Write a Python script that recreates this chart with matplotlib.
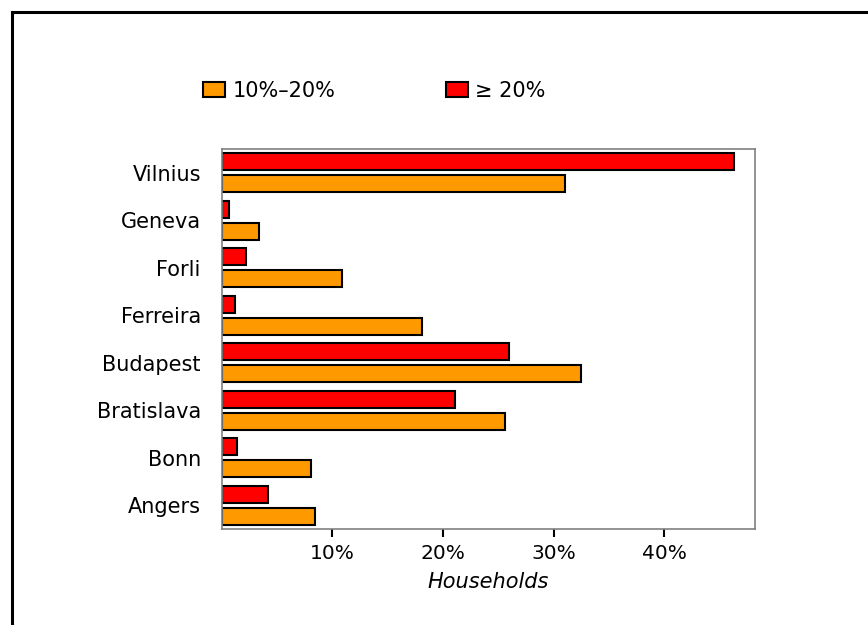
import numpy as np
import matplotlib.pyplot as plt
from matplotlib.lines import Line2D
from matplotlib.patches import Patch

# data (percent of households)
cities = ["Angers", "Bonn", "Bratislava", "Budapest", "Ferreira", "Forli", "Geneva", "Vilnius"]
share_10_20 = [8.4, 8.1, 25.6, 32.5, 18.1, 10.9, 3.4, 31.0]
share_20_plus = [4.2, 1.4, 21.1, 26.0, 1.2, 2.2, 0.7, 46.3]
xticks = [10, 20, 30, 40]
xtick_labels = ["10%", "20%", "30%", "40%"]

orange = "#FF9900"
red = "#FF0000"

plt.rcParams['font.family'] = 'DejaVu Sans'

fig = plt.figure(figsize=(8.68, 6.25), dpi=100)
ax = fig.add_axes([0.2554, 0.1536, 0.6144, 0.608])

y = np.arange(len(cities))
h = 0.36
ax.barh(y - 0.23, share_10_20, height=h, color=orange, edgecolor="black", linewidth=1.5)
ax.barh(y + 0.23, share_20_plus, height=h, color=red, edgecolor="black", linewidth=1.5)

ax.set_xlim(0, 48.2)
ax.set_ylim(-0.5, len(cities) - 0.5)
ax.set_yticks(y)
ax.set_yticklabels(cities, fontsize=15)
ax.set_xticks(xticks)
ax.set_xticklabels(xtick_labels, fontsize=14.5)
ax.tick_params(axis="y", length=0, pad=15)
ax.tick_params(axis="x", length=6, width=1.5, direction="out", pad=5)
ax.set_xlabel("Households", fontsize=15, style="italic", labelpad=6)

for s in ax.spines.values():
    s.set_color("#808080")
    s.set_linewidth(1.2)

# legend
handles = [Patch(facecolor=orange, edgecolor="black", linewidth=1.5),
           Patch(facecolor=red, edgecolor="black", linewidth=1.5)]
fig.legend(handles, ["10%\u201320%", "\u2265 20%"], ncol=2, frameon=False,
           loc="center left", bbox_to_anchor=(0.234, 0.855), fontsize=15,
           handlelength=1.06, handleheight=0.77, handletextpad=0.34,
           columnspacing=5.3, borderaxespad=0, borderpad=0)

# outer frame (right and bottom edges run off the image)
fig.add_artist(Line2D([12 / 868, 12 / 868], [0, 1 - 12 / 625], color="black", linewidth=2.2))
fig.add_artist(Line2D([12 / 868, 1], [1 - 12 / 625, 1 - 12 / 625], color="black", linewidth=2.2))

fig.savefig("out.png", dpi=100, facecolor="white")
